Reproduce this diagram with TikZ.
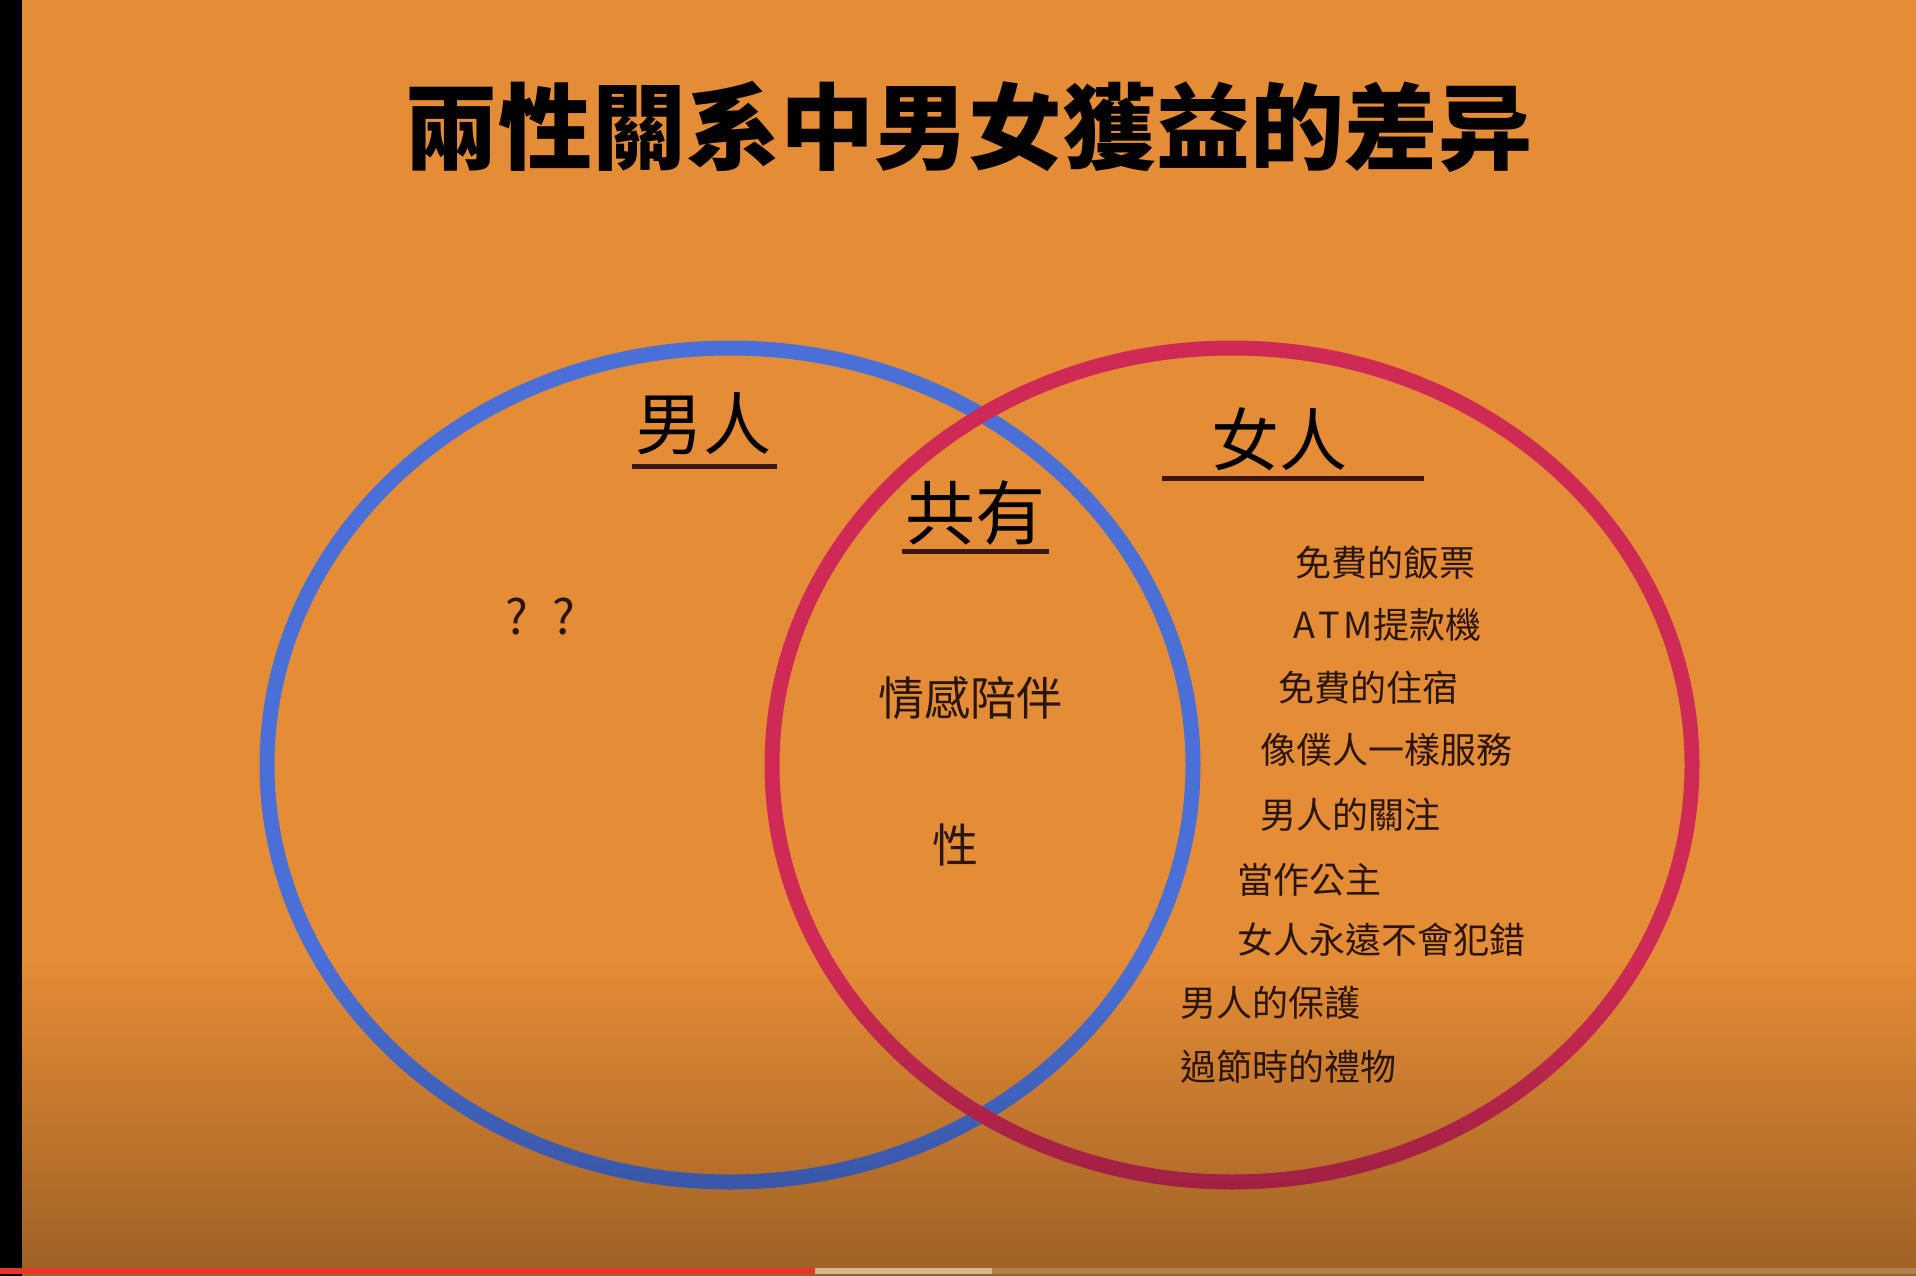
\documentclass[tikz,border=0pt]{standalone}
\usepackage{fontspec}
\newfontfamily\cjk{Noto Sans CJK TC}
\usetikzlibrary{fadings}
\tikzfading[name=darkbottom, top color=transparent!100, bottom color=transparent!0]
\definecolor{bgorange}{HTML}{E58C36}
\definecolor{venblue}{HTML}{4A70D8}
\definecolor{venred}{HTML}{CF2A55}
\definecolor{inkc}{HTML}{2A1608}
\definecolor{ulc}{HTML}{3A1810}
\definecolor{ytred}{HTML}{E8352A}
\definecolor{ytbuf}{HTML}{D4B896}
\definecolor{yttrack}{HTML}{B07E50}
\tikzset{
  titlefont/.style={font=\cjk\bfseries\fontsize{94}{94}\selectfont, text=black, inner sep=0pt},
  headfont/.style={font=\cjk\fontsize{68}{68}\selectfont, text=black, inner sep=0pt},
  midfont/.style={font=\cjk\fontsize{46}{46}\selectfont, text=inkc, inner sep=0pt},
  listfont/.style={font=\cjk\fontsize{36}{36}\selectfont, text=inkc, inner sep=0pt, anchor=west},
  uline/.style={draw=ulc, line width=5pt},
  ring/.style={line width=15pt}
}
\begin{document}
\begin{tikzpicture}[x=1pt,y=-1pt]
\useasboundingbox (0,0) rectangle (1916,1276);
\fill[bgorange] (0,0) rectangle (1916,1276);
% circles
\draw[ring, venblue] (730,765) ellipse [x radius=463, y radius=417];
\draw[ring, venred] (1232,765) ellipse [x radius=460, y radius=417];
% bottom darkening
\fill[black, opacity=0.33, path fading=darkbottom] (0,960) rectangle (1940,1300);
\fill[black] (0,0) rectangle (22,1276);
% progress bar
\fill[ytred] (0,1268) rectangle (815,1274);
\fill[ytbuf] (815,1268) rectangle (992,1274);
\fill[yttrack] (992,1268) rectangle (1916,1274);
% title
\node[titlefont] (title) at (968,127) {兩性關系中男女獲益的差异};
% headings
\node[headfont] (men) at (703,424) {男人};
\node[headfont] (women) at (1279,439) {女人};
\node[headfont, font=\cjk\fontsize{70}{70}\selectfont] (shared) at (975,513) {共有};
\coordinate (menL) at (632,466); \coordinate (menR) at (777,466);
\coordinate (womL) at (1162,478); \coordinate (womR) at (1424,478);
\coordinate (shL) at (902,551); \coordinate (shR) at (1049,551);
\draw[uline] (menL) -- (menR);
\draw[uline] (womL) -- (womR);
\draw[uline] (shL) -- (shR);
% left and middle
\node[midfont, font=\cjk\fontsize{48}{48}\selectfont] (qq) at (540,617) {?\hspace{24pt}?};
\node[midfont] (emo) at (970,698) {情感陪伴};
\node[midfont] (sex) at (955,845) {性};
% right list
\node[listfont] (r1) at (1295,563) {免費的飯票};
\node[listfont] (r2) at (1293,625) {{\addfontfeature{Kerning=Off,LetterSpace=10}ATM}提款機};
\node[listfont] (r3) at (1278,688) {免費的住宿};
\node[listfont] (r4) at (1260,750) {像僕人一樣服務};
\node[listfont] (r5) at (1260,815) {男人的關注};
\node[listfont] (r6) at (1237,880) {當作公主};
\node[listfont] (r7) at (1237,940) {女人永遠不會犯錯};
\node[listfont] (r8) at (1180,1003) {男人的保護};
\node[listfont] (r9) at (1180,1067) {過節時的禮物};
\end{tikzpicture}
\end{document}
